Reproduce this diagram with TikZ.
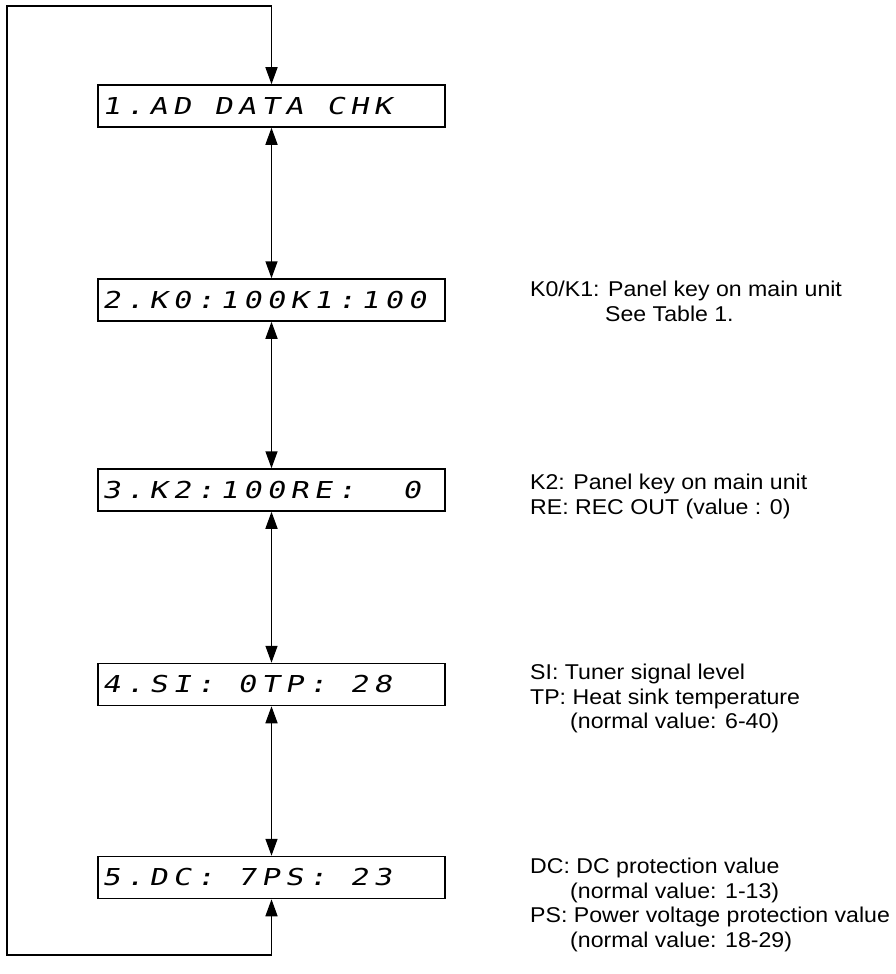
\documentclass[tikz,border=0pt]{standalone}
\usepackage{fontspec}
\setmainfont[FakeStretch=1.08]{Liberation Sans}
\newfontfamily\lcdfont[FakeSlant=0.2,FakeStretch=1.3,LetterSpace=22.7]{DejaVu Sans Mono}
\newcommand\blank{\hspace*{23.4pt}}
\usetikzlibrary{arrows.meta,positioning}

\begin{document}
\begin{tikzpicture}[x=1pt, y=-1pt,
    lcd/.style={rectangle, draw, line width=1.5pt, minimum height=42pt,
                inner xsep=4pt, text width=339pt, align=left,
                font=\lcdfont\fontsize{23.3}{24}\selectfont},
    note/.style={anchor=north west, inner sep=0pt, align=left,
                 font=\fontsize{21.4}{24.5}\selectfont},
    arrow/.style={<->, line width=1.5pt, >={Triangle[length=17pt,width=12pt]}}
]
\useasboundingbox (0,0) rectangle (896,974);

% LCD screens
\node[lcd] (chk) at (271.5,106) {1.AD\blank DATA\blank CHK};
\node[lcd] (key) at (271.5,300) {2.K0:100K1:100};
\node[lcd] (rec) at (271.5,490) {3.K2:100RE:\blank\blank 0};
\node[lcd] (tmp) at (271.5,684.5) {4.SI:\blank 0TP:\blank 28};
\node[lcd] (pwr) at (271.5,877.5) {5.DC:\blank 7PS:\blank 23};

% Notes
\node[note] (keynote) at (530,281) {K0/K1: Panel key on main unit\\\hspace*{75pt}See Table 1.};
\node[note] (recnote) at (530,474) {K2: Panel key on main unit\\RE: REC OUT (value : 0)};
\node[note] (tmpnote) at (530,664) {SI: Tuner signal level\\TP: Heat sink temperature\\\hspace*{40pt}(normal value: 6-40)};
\node[note] (pwrnote) at (530,858) {DC: DC protection value\\\hspace*{40pt}(normal value: 1-13)\\PS: Power voltage protection value\\\hspace*{40pt}(normal value: 18-29)};

% Arrows between screens
\draw[arrow] (chk) -- (key);
\draw[arrow] (key) -- (rec);
\draw[arrow] (rec) -- (tmp);
\draw[arrow] (tmp) -- (pwr);

% Loop back to the first screen
\coordinate (top) at (7,6);
\coordinate (bot) at (7,955);
\draw[arrow] (chk.north) -- (chk.north |- top) -- (top) -- (bot) -- (pwr.south |- bot) -- (pwr.south);

\end{tikzpicture}
\end{document}
